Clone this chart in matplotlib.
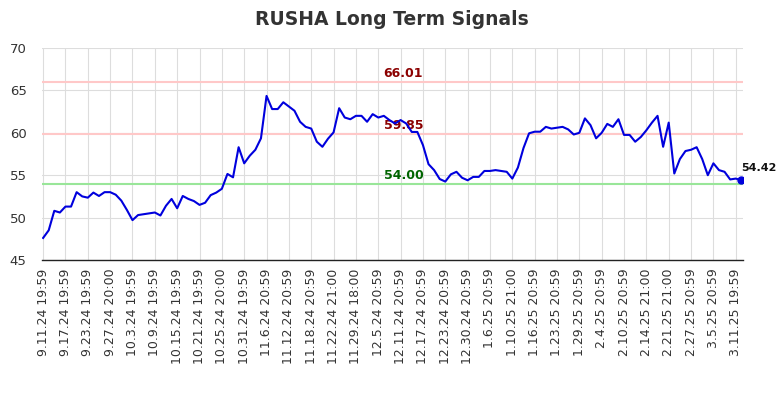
import matplotlib
matplotlib.use("Agg")
import matplotlib.pyplot as plt

title = "RUSHA Long Term Signals"

tick_labels = [
    "9.11.24 19:59", "9.17.24 19:59", "9.23.24 19:59", "9.27.24 20:00",
    "10.3.24 19:59", "10.9.24 19:59", "10.15.24 19:59", "10.21.24 19:59",
    "10.25.24 20:00", "10.31.24 19:59", "11.6.24 20:59", "11.12.24 20:59",
    "11.18.24 20:59", "11.22.24 21:00", "11.29.24 18:00", "12.5.24 20:59",
    "12.11.24 20:59", "12.17.24 20:59", "12.23.24 20:59", "12.30.24 20:59",
    "1.6.25 20:59", "1.10.25 21:00", "1.16.25 20:59", "1.23.25 20:59",
    "1.29.25 20:59", "2.4.25 20:59", "2.10.25 20:59", "2.14.25 21:00",
    "2.21.25 21:00", "2.27.25 20:59", "3.5.25 20:59", "3.11.25 19:59",
]

values = [
    47.6, 48.5, 50.8, 50.6, 51.3, 51.3, 53.0, 52.5, 52.35, 52.95,
    52.55, 53.0, 53.0, 52.7, 52.0, 50.9, 49.7, 50.3, 50.4, 50.5,
    50.6, 50.25, 51.4, 52.2, 51.1, 52.55, 52.2, 51.95, 51.5, 51.75,
    52.65, 52.95, 53.4, 55.15, 54.75, 58.3, 56.4, 57.3, 58.0, 59.35,
    64.35, 62.8, 62.8, 63.6, 63.1, 62.6, 61.3, 60.7, 60.5, 58.95,
    58.35, 59.3, 60.05, 62.9, 61.8, 61.6, 62.0, 62.0, 61.3, 62.2,
    61.8, 62.0, 61.5, 61.1, 61.5, 61.1, 60.1, 60.1, 58.55, 56.3,
    55.6, 54.55, 54.25, 55.1, 55.4, 54.7, 54.4, 54.8, 54.8, 55.5,
    55.5, 55.6, 55.5, 55.4, 54.6, 55.9, 58.2, 59.94, 60.13, 60.13,
    60.7, 60.5, 60.6, 60.7, 60.4, 59.8, 60.0, 61.7, 60.9, 59.35,
    60.0, 61.05, 60.7, 61.6, 59.75, 59.75, 58.95, 59.5, 60.3, 61.2,
    62.0, 58.35, 61.2, 55.2, 56.9, 57.85, 58.0, 58.3, 56.9, 55.0,
    56.4, 55.6, 55.4, 54.5, 54.6, 54.42,
]

upper_levels = [66.01, 59.85]
lower_level = 54.00

x = list(range(len(values)))
tick_step = 4
tick_pos = x[::tick_step][:len(tick_labels)]

fig = plt.figure(figsize=(7.84, 4.0), dpi=100)
ax = fig.add_axes([42 / 784, 1 - 260 / 400, (743 - 42) / 784, (260 - 48) / 400])

ax.set_ylim(45, 70)
ax.set_xlim(-0.2, len(values) - 1 + 0.3)
ax.set_yticks([45, 50, 55, 60, 65, 70])
ax.set_xticks(tick_pos)
ax.set_xticklabels(tick_labels, rotation=90, fontsize=9, color="#333333")
ax.tick_params(axis="y", labelsize=9.5, colors="#333333", length=0, pad=11)
ax.tick_params(axis="x", length=0, pad=6)
ax.grid(True, color="#dddddd", linewidth=0.8)
ax.set_axisbelow(True)
for s in ["top", "right", "left"]:
    ax.spines[s].set_visible(False)
ax.spines["bottom"].set_color("#222222")
ax.spines["bottom"].set_linewidth(1.0)

label_x = 64.5
for lvl in upper_levels:
    ax.axhline(lvl, color="#ffc8c8", linewidth=1.5, zorder=1)
    ax.text(label_x, lvl + 0.25, f"{lvl:.2f}", color="#8b0000", fontsize=9,
            fontweight="bold", ha="center", va="bottom")
ax.axhline(lower_level, color="#99e699", linewidth=1.5, zorder=1)
ax.text(label_x, lower_level + 0.25, f"{lower_level:.2f}", color="#006400", fontsize=9,
        fontweight="bold", ha="center", va="bottom")

ax.plot(x, values, color="#0000dd", linewidth=1.5, zorder=3)
ax.plot([x[-1]], [values[-1]], "o", color="#0000dd", markersize=5, zorder=4)
ax.annotate(f"{values[-1]:.2f}", (x[-1], values[-1]), xytext=(0, 5),
            textcoords="offset points", fontsize=8, fontweight="bold",
            color="#111111", ha="left", va="bottom")

fig.suptitle(title, x=0.5, y=0.975, fontsize=13.5, fontweight="bold", color="#333333")

fig.savefig("out.png", dpi=100)
